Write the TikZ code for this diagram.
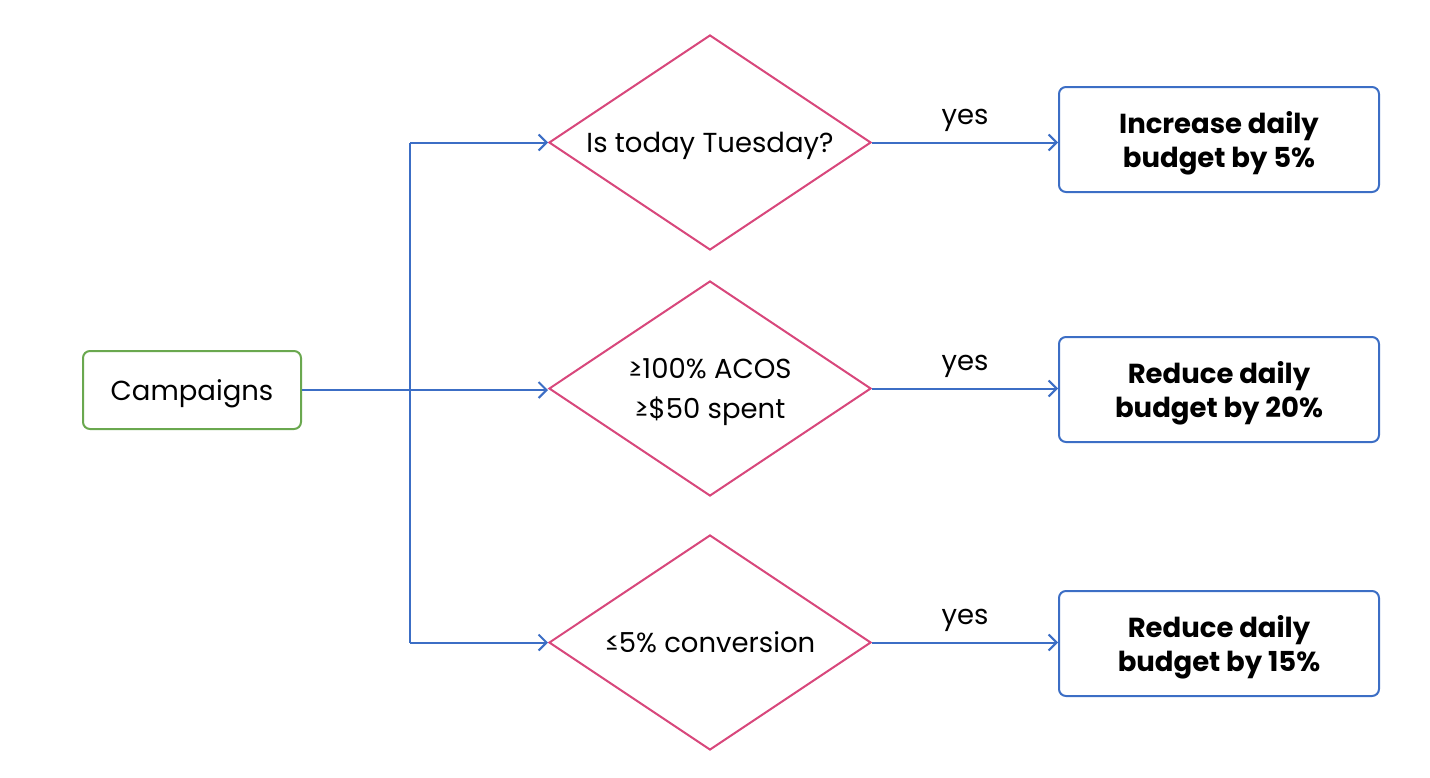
\documentclass[tikz,border=0pt]{standalone}
\usepackage{fontspec}
\setmainfont{Poppins}
\usetikzlibrary{shapes.geometric,arrows.meta}
\definecolor{cgreen}{HTML}{6AA84F}
\definecolor{cpink}{HTML}{D8487C}
\definecolor{cblue}{HTML}{3C6EC5}
\tikzset{
  startbox/.style={draw=cgreen,line width=2pt,rounded corners=7pt,minimum width=218pt,minimum height=78pt,inner sep=0pt,text depth=0pt,font=\fontsize{27.5}{33}\selectfont},
  decide/.style={draw=cpink,line width=2pt,shape=diamond,aspect=1.5,minimum width=322pt,minimum height=215pt,inner sep=0pt,text depth=0pt,align=center,font=\fontsize{27.5}{40}\selectfont},
  actbox/.style={draw=cblue,line width=2pt,rounded corners=7pt,minimum width=320pt,minimum height=105pt,inner sep=0pt,text depth=0pt,align=center,font=\fontsize{27.5}{34}\selectfont\bfseries},
  conn/.style={draw=cblue,line width=2pt},
  arr/.style={conn,-{Straight Barb[length=8pt,width=16pt,line width=2pt]}},
  lbl/.style={font=\fontsize{27.5}{33}\selectfont,inner sep=0pt}
}
\begin{document}
\begin{tikzpicture}[x=1pt,y=-1pt]
\useasboundingbox (0,0) rectangle (1430,777);
\node[startbox] (camp) at (192,390) {Campaigns};
\node[decide] (d1) at (710,142.5) {Is today Tuesday?};
\node[decide] (d2) at (710,388.5) {≥100\% ACOS\\≥\$50 spent};
\node[decide] (d3) at (710,642.5) {≤5\% conversion};
\node[actbox] (b1) at (1219,139.5) {Increase daily\\budget by 5\%};
\node[actbox] (b2) at (1219,389.5) {Reduce daily\\budget by 20\%};
\node[actbox] (b3) at (1219,643.5) {Reduce daily\\budget by 15\%};
\coordinate (jt) at (410,142.5);
\coordinate (jb) at (410,642.5);
\draw[conn] (jt) -- (jb);
\draw[arr] (camp.east) -- (camp.east -| d2.west);
\draw[arr] (jt) -- (jt -| d1.west);
\draw[arr] (jb) -- (jb -| d3.west);
\draw[arr] (d1.east) -- (d1.east -| b1.west) node[lbl,midway,above=10pt] (y1) {yes};
\draw[arr] (d2.east) -- (d2.east -| b2.west) node[lbl,midway,above=10pt] (y2) {yes};
\draw[arr] (d3.east) -- (d3.east -| b3.west) node[lbl,midway,above=10pt] (y3) {yes};
\end{tikzpicture}
\end{document}
